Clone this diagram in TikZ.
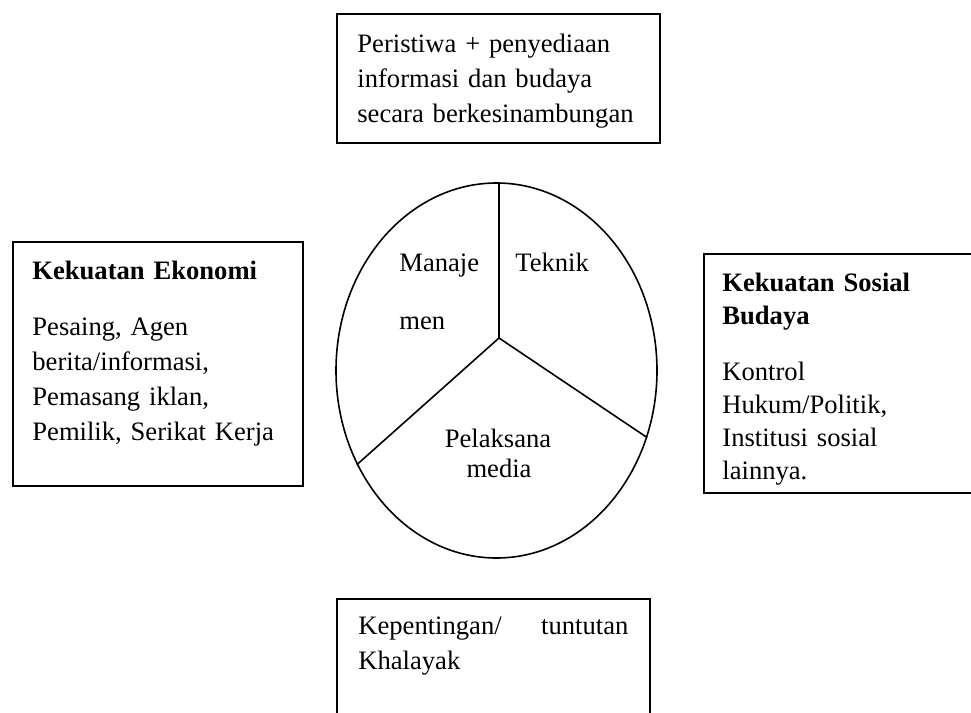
\documentclass[tikz,border=0pt]{standalone}
\usepackage{fontspec}
\setmainfont{Liberation Serif}
\usetikzlibrary{shapes.geometric}
\begin{document}
\begin{tikzpicture}[x=0.5pt,y=-0.5pt,
  boxline/.style={draw, line width=1.1pt, inner sep=0pt, anchor=north west},
  txt/.style={inner sep=0pt, anchor=base west, align=left, font=\fontsize{13.3}{17.5}\selectfont},
  pie/.style={line width=0.8pt}]
\useasboundingbox (0,0) rectangle (971,713);
\fill[white] (0,0) rectangle (971,713);
\clip (0,0) rectangle (971,713);
% boxes
\node[boxline, minimum width=161.5pt, minimum height=64.5pt] (topbox) at (336,13) {};
\node[boxline, minimum width=145pt, minimum height=122pt] (leftbox) at (12,241) {};
\node[boxline, minimum width=150pt, minimum height=119.5pt] (rightbox) at (703,253) {};
\node[boxline, minimum width=156.5pt, minimum height=75pt] (botbox) at (336,598) {};
% ellipse
\node[draw, ellipse, line width=0.8pt, minimum width=160.5pt, minimum height=187.5pt, inner sep=0pt] (ell) at (496.5,370.5) {};
\coordinate (hub) at (499,338);
\draw[pie] (hub) -- (hub |- ell.north);
\draw[pie] (hub) -- (ell.-24.2);
\draw[pie] (hub) -- (ell.214.6);
% texts
\node[txt, text width=150pt] (toptext) at (357,52) {Peristiwa + penyediaan\\informasi dan budaya\\secara berkesinambungan};
\node[txt, text width=140pt] (lefttext) at (32,279) {\textbf{Kekuatan Ekonomi}\\[10.5pt]Pesaing, Agen\\berita/informasi,\\Pemasang iklan,\\Pemilik, Serikat Kerja};
\node[txt, text width=120pt, font=\fontsize{13.3}{16.5}\selectfont] (righttext) at (722,291) {\textbf{Kekuatan Sosial}\\\textbf{Budaya}\\[11.5pt]Kontrol\\Hukum/Politik,\\Institusi sosial\\lainnya.};
\node[txt, text width=135pt] (bottext) at (358,634) {Kepentingan/\hfill tuntutan\\Khalayak};
\node[txt] (manaje) at (399,271) {Manaje};
\node[txt] (men) at (399,329) {men};
\node[txt] (teknik) at (515,271) {Teknik};
\node[txt, anchor=base] (pelaksana) at (498,447) {Pelaksana};
\node[txt, anchor=base] (media) at (499,477) {media};
\end{tikzpicture}
\end{document}
